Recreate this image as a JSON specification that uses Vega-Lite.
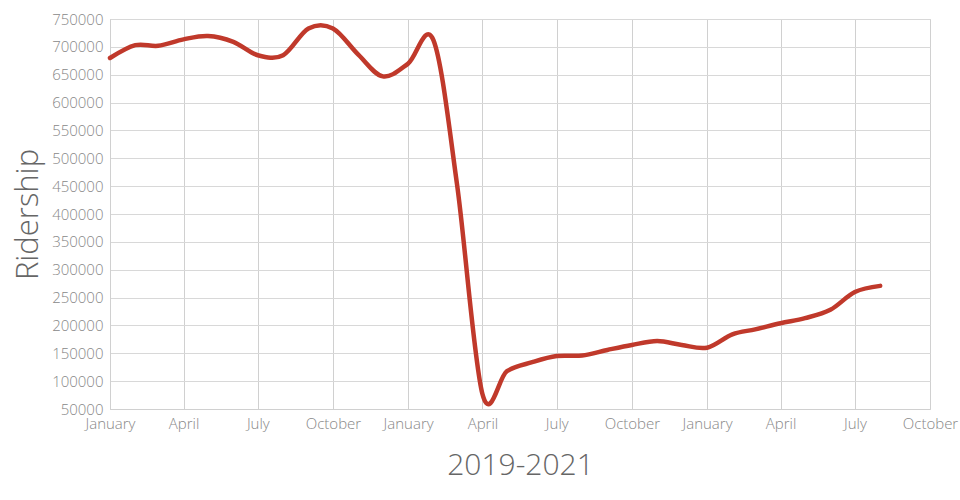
{
  "$schema": "https://vega.github.io/schema/vega-lite/v6.json",
  "width": 820,
  "height": 390,
  "autosize": {"type": "none"},
  "padding": {"left": 110, "top": 19, "right": 30, "bottom": 91},
  "background": "white",
  "config": {
    "view": {"stroke": "#d0d0d0", "strokeWidth": 1},
    "font": "Open Sans"
  },
  "data": {
    "values": [
      {"date": "2019-01-01", "ridership": 680000},
      {"date": "2019-02-01", "ridership": 703000},
      {"date": "2019-03-01", "ridership": 702000},
      {"date": "2019-04-01", "ridership": 713500},
      {"date": "2019-05-01", "ridership": 719500},
      {"date": "2019-06-01", "ridership": 709000},
      {"date": "2019-07-01", "ridership": 685000},
      {"date": "2019-08-01", "ridership": 685000},
      {"date": "2019-09-01", "ridership": 733000},
      {"date": "2019-10-01", "ridership": 733000},
      {"date": "2019-11-01", "ridership": 686000},
      {"date": "2019-12-01", "ridership": 647000},
      {"date": "2020-01-01", "ridership": 670000},
      {"date": "2020-02-01", "ridership": 712000},
      {"date": "2020-03-01", "ridership": 452000},
      {"date": "2020-04-01", "ridership": 77000},
      {"date": "2020-05-01", "ridership": 118000},
      {"date": "2020-06-01", "ridership": 134000},
      {"date": "2020-07-01", "ridership": 145000},
      {"date": "2020-08-01", "ridership": 146000},
      {"date": "2020-09-01", "ridership": 156000},
      {"date": "2020-10-01", "ridership": 165000},
      {"date": "2020-11-01", "ridership": 172000},
      {"date": "2020-12-01", "ridership": 165000},
      {"date": "2021-01-01", "ridership": 160000},
      {"date": "2021-02-01", "ridership": 184000},
      {"date": "2021-03-01", "ridership": 193000},
      {"date": "2021-04-01", "ridership": 204000},
      {"date": "2021-05-01", "ridership": 213000},
      {"date": "2021-06-01", "ridership": 228000},
      {"date": "2021-07-01", "ridership": 260000},
      {"date": "2021-08-01", "ridership": 271000}
    ]
  },
  "mark": {
    "type": "line",
    "interpolate": "cardinal",
    "tension": 0,
    "color": "#c0392b",
    "strokeWidth": 4.5,
    "strokeCap": "round",
    "clip": false
  },
  "encoding": {
    "x": {
      "field": "date",
      "type": "temporal",
      "scale": {
        "domain": [{"year": 2019, "month": 1, "date": 1}, {"year": 2021, "month": 10, "date": 1}],
        "nice": false
      },
      "axis": {
        "values": [
          {"year": 2019, "month": 1, "date": 1},
          {"year": 2019, "month": 4, "date": 1},
          {"year": 2019, "month": 7, "date": 1},
          {"year": 2019, "month": 10, "date": 1},
          {"year": 2020, "month": 1, "date": 1},
          {"year": 2020, "month": 4, "date": 1},
          {"year": 2020, "month": 7, "date": 1},
          {"year": 2020, "month": 10, "date": 1},
          {"year": 2021, "month": 1, "date": 1},
          {"year": 2021, "month": 4, "date": 1},
          {"year": 2021, "month": 7, "date": 1},
          {"year": 2021, "month": 10, "date": 1}
        ],
        "format": "%B",
        "formatType": "time",
        "title": "2019-2021",
        "titleFont": "Open Sans",
        "titleFontWeight": 300,
        "titleFontSize": 30,
        "titleColor": "#666666",
        "titleY": 56,
        "titleBaseline": "middle",
        "labelFont": "Open Sans",
        "labelFontWeight": 300,
        "labelFontSize": 15,
        "labelColor": "#888888",
        "labelPadding": 7,
        "labelFlush": false,
        "labelOverlap": false,
        "ticks": false,
        "domainColor": "#d0d0d0",
        "gridColor": "#d0d0d0",
        "grid": true
      }
    },
    "y": {
      "field": "ridership",
      "type": "quantitative",
      "scale": {"domain": [50000, 750000], "nice": false, "zero": false},
      "axis": {
        "values": [50000, 100000, 150000, 200000, 250000, 300000, 350000, 400000, 450000, 500000, 550000, 600000, 650000, 700000, 750000],
        "format": "d",
        "title": "Ridership",
        "titleFont": "Open Sans",
        "titleFontWeight": 300,
        "titleFontSize": 31,
        "titleColor": "#666666",
        "titleX": -82,
        "titleY": 195,
        "titleBaseline": "middle",
        "titleAlign": "center",
        "titleAngle": -90,
        "labelFont": "Open Sans",
        "labelFontWeight": 300,
        "labelFontSize": 15,
        "labelColor": "#888888",
        "labelPadding": 7,
        "labelFlush": false,
        "labelOverlap": false,
        "ticks": false,
        "domainColor": "#d0d0d0",
        "gridColor": "#d8d8d8",
        "grid": true
      }
    }
  }
}
